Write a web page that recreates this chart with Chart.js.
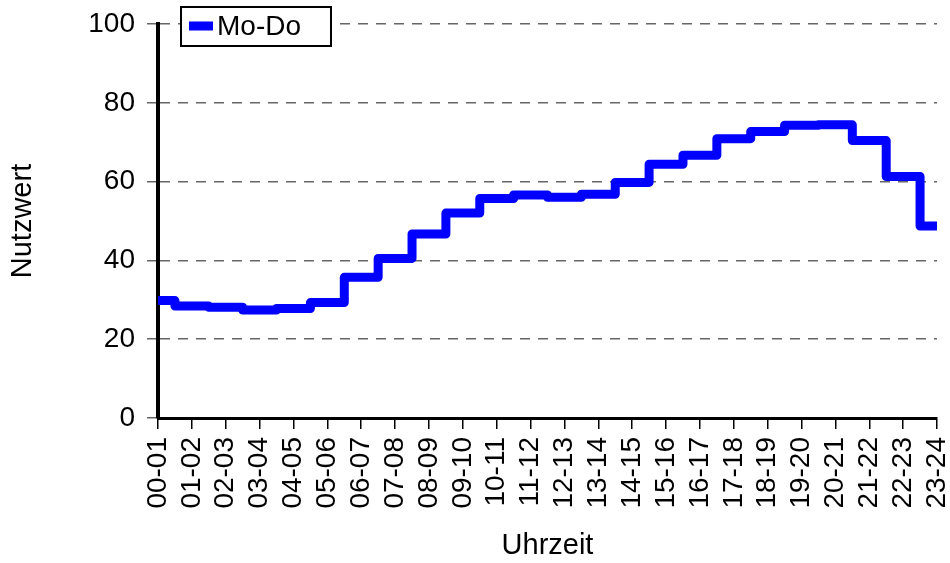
<!DOCTYPE html>
<html lang="de">
<head>
    <meta charset="UTF-8">
    <title>Nutzwert Mo-Do</title>
    <script src="https://cdn.jsdelivr.net/npm/chart.js"></script>
    <style>
        html, body {
            margin: 0;
            padding: 0;
            background: #fff;
        }
        .chart-container {
            width: 950px;
            height: 563px;
        }
    </style>
</head>
<body>
    <div class="chart-container">
        <canvas id="nutzChart"></canvas>
    </div>

    <script>
        // Stundenintervalle
        const hours = [
            "00-01", "01-02", "02-03", "03-04", "04-05", "05-06",
            "06-07", "07-08", "08-09", "09-10", "10-11", "11-12",
            "12-13", "13-14", "14-15", "15-16", "16-17", "17-18",
            "18-19", "19-20", "20-21", "21-22", "22-23", "23-24"
        ];
        // Nutzwert Mo-Do
        const moDo = [
            29.8, 28.4, 28.1, 27.4, 27.8, 29.3,
            35.7, 40.5, 46.7, 52.0, 55.7, 56.6,
            56.0, 56.8, 59.8, 64.4, 66.7, 70.9,
            72.7, 74.3, 74.4, 70.4, 61.3, 48.7
        ];
        const yTicks = [0, 20, 40, 60, 80, 100];

        const fontFamily = "'Liberation Sans', Arial, sans-serif";

        // Legende mit Rahmen oben links im Diagramm
        const boxLegend = {
            id: "boxLegend",
            afterDraw(chart) {
                const ctx = chart.ctx;
                const ds = chart.data.datasets[0];
                const x = chart.chartArea.left + 23;
                const y = 7;
                ctx.save();
                ctx.fillStyle = "#fff";
                ctx.fillRect(x, y, 150, 39);
                ctx.lineWidth = 2;
                ctx.strokeStyle = "#000";
                ctx.strokeRect(x, y, 150, 39);
                ctx.strokeStyle = ds.borderColor;
                ctx.lineWidth = 9;
                ctx.beginPath();
                ctx.moveTo(x + 8, y + 19);
                ctx.lineTo(x + 32, y + 19);
                ctx.stroke();
                ctx.fillStyle = "#000";
                ctx.font = "28px " + fontFamily;
                ctx.textBaseline = "middle";
                ctx.fillText(ds.label, x + 36, y + 20);
                ctx.restore();
            }
        };

        const ctx = document.getElementById("nutzChart").getContext("2d");
        new Chart(ctx, {
            type: "line",
            data: {
                labels: hours,
                datasets: [{
                    label: "Mo-Do",
                    data: moDo,
                    borderColor: "#0000ff",
                    backgroundColor: "#0000ff",
                    borderWidth: 9,
                    stepped: "middle",
                    pointRadius: 0,
                    borderJoinStyle: "round",
                    borderCapStyle: "butt",
                }]
            },
            options: {
                responsive: true,
                maintainAspectRatio: false,
                animation: false,
                layout: {
                    padding: { top: 24, right: 13, left: 0, bottom: 0 }
                },
                plugins: {
                    legend: { display: false },
                    tooltip: { enabled: false },
                },
                scales: {
                    x: {
                        offset: false,
                        afterFit(scale) {
                            scale.height = 145;
                            scale.paddingLeft = 0;
                            scale.paddingRight = 0;
                        },
                        grid: {
                            drawOnChartArea: false,
                            tickLength: 11,
                            color: "#000",
                            lineWidth: 1.5,
                        },
                        border: { color: "#000", width: 3 },
                        ticks: {
                            minRotation: 90,
                            maxRotation: 90,
                            autoSkip: false,
                            padding: 8,
                            color: "#000",
                            font: { family: fontFamily, size: 28 },
                        },
                        title: {
                            display: true,
                            text: "Uhrzeit",
                            color: "#000",
                            font: { family: fontFamily, size: 29 },
                            padding: { top: 0, bottom: 0 },
                        },
                    },
                    y: {
                        min: 0,
                        max: 100,
                        afterFit(scale) {
                            scale.width = 158;
                            scale.paddingTop = 0;
                            scale.paddingBottom = 0;
                        },
                        afterBuildTicks(scale) {
                            scale.ticks = yTicks.map(v => ({ value: v }));
                        },
                        grid: {
                            color: "#666",
                            lineWidth: 1.5,
                            tickLength: 11,
                            tickBorderDash: [],
                        },
                        border: { color: "#000", width: 4, dash: [10, 8] },
                        ticks: {
                            padding: 12,
                            color: "#000",
                            font: { family: fontFamily, size: 28 },
                        },
                        title: {
                            display: true,
                            text: "Nutzwert",
                            color: "#000",
                            font: { family: fontFamily, size: 29 },
                            padding: { top: 6, bottom: 0 },
                        },
                    },
                },
            },
            plugins: [boxLegend],
        });
    </script>
</body>
</html>
